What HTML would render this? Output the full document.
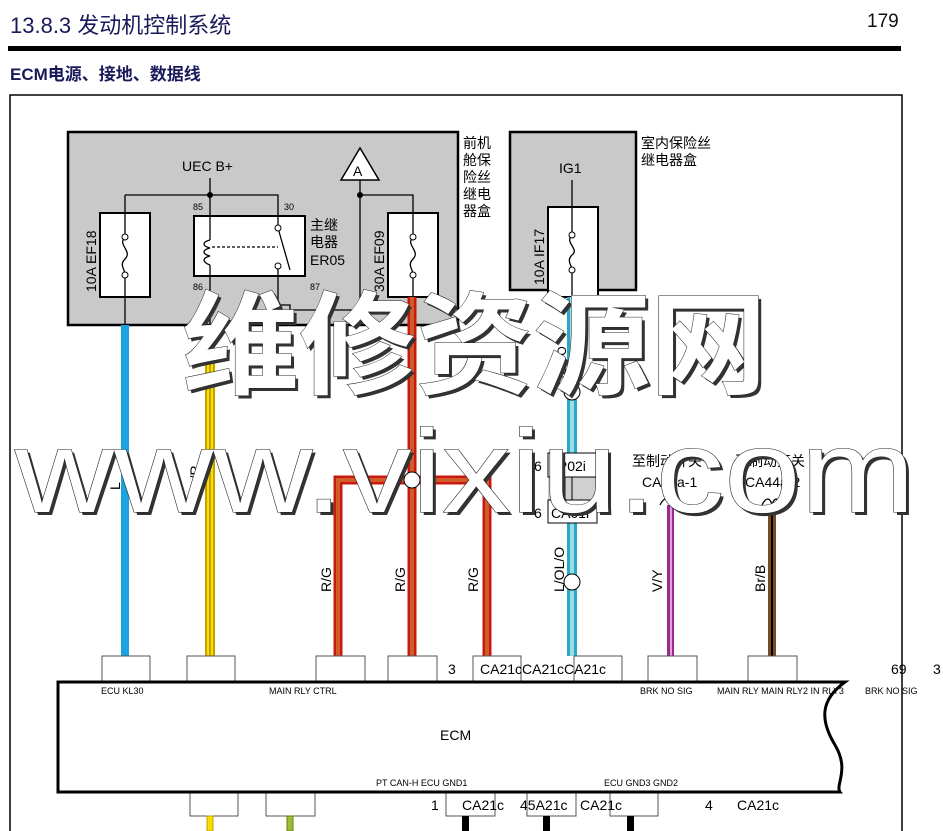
<!DOCTYPE html>
<html><head><meta charset="utf-8"><style>
html,body{margin:0;padding:0;background:#fff;}
svg{display:block;font-family:"Liberation Sans","Noto Sans CJK SC",sans-serif;}
</style></head><body>
<svg width="943" height="831" viewBox="0 0 943 831" xmlns="http://www.w3.org/2000/svg">
<text x="10" y="33" font-size="22" fill="#1a1a5a">13.8.3 发动机控制系统</text>
<text x="867" y="27" font-size="19" fill="#111">179</text>
<rect x="8" y="46" width="893" height="5" fill="#000"/>
<text x="10" y="80" font-size="17" font-weight="bold" fill="#1a1a5a">ECM电源、接地、数据线</text>
<path d="M10 831 V95 H902 V831" fill="none" stroke="#000" stroke-width="1.5"/>

<rect x="68" y="132" width="390" height="193" fill="#c9c9c9" stroke="#000" stroke-width="2.5"/>
<rect x="510" y="132" width="126" height="158" fill="#c9c9c9" stroke="#000" stroke-width="2.5"/>
<g font-size="14" fill="#000">
<text x="463" y="148">前机</text><text x="463" y="165">舱保</text><text x="463" y="182">险丝</text><text x="463" y="199">继电</text><text x="463" y="216">器盒</text>
<text x="641" y="148">室内保险丝</text><text x="641" y="165">继电器盒</text>
<text x="182" y="171">UEC B+</text>
<text x="559" y="173">IG1</text>
<text x="310" y="230">主继</text><text x="310" y="247">电器</text><text x="310" y="265">ER05</text>
</g>
<g stroke="#000" stroke-width="1.3" fill="none">
<path d="M210 178 V325 M125 195 H278 V325 M125 195 V325"/>
<path d="M360 180 V325 M360 195 H413 V325"/>
<path d="M572 180 V325"/>
<path d="M278 305 H290 V310 H360"/>
</g>
<circle cx="210" cy="195" r="3" fill="#000"/><circle cx="360" cy="195" r="3" fill="#000"/>
<polygon points="360,148 341,180 379,180" fill="#fff" stroke="#000" stroke-width="1.5"/>
<text x="353" y="176" font-size="14">A</text>
<g fill="#fff" stroke="#000" stroke-width="2">
<rect x="100" y="213" width="50" height="84"/>
<rect x="388" y="213" width="50" height="84"/>
<rect x="548" y="207" width="50" height="90"/>
<rect x="194" y="216" width="111" height="60"/>
</g>
<g stroke="#000" stroke-width="1.3" fill="none">
<path d="M125 213 V237 M125 275 V297 M125 237 c-8 8 8 14 0 22 c-6 6 0 10 0 16"/>
<path d="M413 213 V237 M413 275 V297 M413 237 c-8 8 8 14 0 22 c-6 6 0 10 0 16"/>
<path d="M572 207 V235 M572 270 V297 M572 235 c-8 8 8 14 0 20 c-6 6 0 10 0 15"/>
<path d="M210 216 V240 M210 265 V276 M210 240 c-8 2 -8 6 0 8 c-8 2 -8 6 0 8 c-8 2 -8 6 0 9"/>
<path d="M278 216 V228 M278 266 V276 M278 228 L290 270"/>
<path d="M212 247 H278" stroke-dasharray="3,2"/>
</g>
<circle cx="125" cy="237" r="3" fill="#fff" stroke="#000"/><circle cx="125" cy="275" r="3" fill="#fff" stroke="#000"/>
<circle cx="413" cy="237" r="3" fill="#fff" stroke="#000"/><circle cx="413" cy="275" r="3" fill="#fff" stroke="#000"/>
<circle cx="572" cy="235" r="3" fill="#fff" stroke="#000"/><circle cx="572" cy="270" r="3" fill="#fff" stroke="#000"/>
<circle cx="278" cy="228" r="3" fill="#fff" stroke="#000"/><circle cx="278" cy="266" r="3" fill="#fff" stroke="#000"/>
<g font-size="9"><text x="193" y="210">85</text><text x="284" y="210">30</text><text x="193" y="290">86</text><text x="310" y="290">87</text></g>
<g font-size="14">
<text transform="translate(96,292) rotate(-90)">10A EF18</text>
<text transform="translate(384,292) rotate(-90)">30A EF09</text>
<text transform="translate(544,285) rotate(-90)">10A IF17</text>
</g>

<rect x="121" y="325" width="8" height="331" fill="#1ba3e0"/>
<rect x="205" y="325" width="10" height="331" fill="#c8a000"/><rect x="207" y="325" width="6" height="331" fill="#f5e000"/><rect x="209" y="325" width="2" height="331" fill="#c8a000"/>
<g fill="none">
<path d="M412 297 V656 M412 480 H338 V656 M412 480 H487 V656" stroke="#c81810" stroke-width="9"/>
<path d="M412 297 V656 M412 480 H338 V656 M412 480 H487 V656" stroke="#d8a040" stroke-width="3"/>
<path d="M412 297 V656 M412 480 H338 V656 M412 480 H487 V656" stroke="#c81810" stroke-width="1"/>
</g>
<rect x="567" y="297" width="10" height="359" fill="#2aa8c8"/><rect x="570" y="297" width="4" height="359" fill="#9adde8"/>
<rect x="667" y="505" width="7" height="151" fill="#9a2890"/><rect x="670" y="505" width="2" height="151" fill="#e0a0d8"/>
<rect x="768" y="505" width="8" height="151" fill="#7a4a20"/><rect x="771" y="505" width="2" height="151" fill="#000"/>
<circle cx="412" cy="480" r="8" fill="#fff" stroke="#000"/>
<circle cx="572" cy="392" r="8" fill="#fff" stroke="#000"/>
<circle cx="572" cy="582" r="8" fill="#fff" stroke="#000"/>
<rect x="548" y="477" width="49" height="23" fill="#d0d0d0"/>
<rect x="548" y="453" width="49" height="24" fill="#fff" stroke="#000"/>
<rect x="548" y="500" width="49" height="23" fill="#fff" stroke="#000"/>
<path d="M565 477 V500 M572 477 V500" stroke="#000"/>
<g font-size="14">
<text x="534" y="471">6</text><text x="554" y="471">IP02i</text>
<text x="534" y="518">6</text><text x="551" y="518">CA01i</text>
<text x="632" y="466">至制动开关</text><text x="642" y="487">CA44a-1</text>
<text x="735" y="466">至制动开关</text><text x="745" y="487">CA44a-2</text>
<text transform="translate(120,490) rotate(-90)">L</text>
<text transform="translate(200,495) rotate(-90)">Lg/R</text>
<text transform="translate(331,592) rotate(-90)">R/G</text>
<text transform="translate(405,592) rotate(-90)">R/G</text>
<text transform="translate(478,592) rotate(-90)">R/G</text>
<text transform="translate(564,592) rotate(-90)">L/OL/O</text>
<text transform="translate(662,592) rotate(-90)">V/Y</text>
<text transform="translate(765,592) rotate(-90)">Br/B</text>
<text transform="translate(566,385) rotate(-90)" font-size="12">L/OL/O</text>
</g>
<path d="M660 505 c4 -8 8 -8 10 0 c2 -8 6 -8 10 0 M762 505 c4 -8 8 -8 10 0 c2 -8 6 -8 10 0" stroke="#000" fill="none" stroke-width="1.3"/>

<g fill="#fff" stroke="#555" stroke-width="1">
<rect x="102" y="656" width="48" height="26"/><rect x="187" y="656" width="48" height="26"/>
<rect x="316" y="656" width="49" height="26"/><rect x="388" y="656" width="49" height="26"/>
<rect x="473" y="656" width="48" height="26"/><rect x="574" y="656" width="48" height="26"/>
<rect x="648" y="656" width="49" height="26"/><rect x="748" y="656" width="49" height="26"/>
<rect x="190" y="792" width="48" height="24"/><rect x="266" y="792" width="49" height="24"/>
<rect x="446" y="792" width="49" height="24"/><rect x="527" y="792" width="49" height="24"/>
<rect x="610" y="792" width="48" height="24"/>
</g>
<g font-size="14"><text x="448" y="674">3</text><text x="480" y="674">CA21cCA21cCA21c</text>
<text x="891" y="674">69</text><text x="933" y="674">3</text>
<text x="431" y="810">1</text><text x="462" y="810">CA21c</text><text x="520" y="810">45A21c</text><text x="580" y="810">CA21c</text>
<text x="705" y="810">4</text><text x="737" y="810">CA21c</text></g>
<path d="M58 682 H845 C820 700 820 720 835 745 C850 770 835 785 840 792 H58 Z" fill="#fff" stroke="#000" stroke-width="3"/>
<g font-size="9">
<text x="101" y="694">ECU KL30</text><text x="269" y="694">MAIN RLY CTRL</text><text x="640" y="694">BRK NO SIG</text>
<text x="717" y="694">MAIN RLY MAIN RLY2 IN RLY3</text><text x="865" y="694">BRK NO SIG</text>
<text x="376" y="786">PT CAN-H ECU GND1</text><text x="604" y="786">ECU GND3 GND2</text>
</g>
<text x="440" y="740" font-size="14">ECM</text>
<rect x="207" y="816" width="6" height="15" fill="#f5e000" stroke="#c8a000"/>
<rect x="287" y="816" width="6" height="15" fill="#9ac030" stroke="#608010"/>
<rect x="462" y="816" width="7" height="15" fill="#000"/>
<rect x="543" y="816" width="7" height="15" fill="#000"/>
<rect x="627" y="816" width="7" height="15" fill="#000"/>

<!-- watermark shadow -->
<g font-weight="bold" fill="#333">
<text x="185" y="388" font-size="112" textLength="585" lengthAdjust="spacingAndGlyphs" font-family="Noto Sans CJK SC, sans-serif">维修资源网</text>
<text x="18" y="515" font-size="118" font-weight="normal" textLength="900" lengthAdjust="spacingAndGlyphs">www.vixiu.com</text>
</g>
<g font-weight="bold" fill="#fff" stroke="#222" stroke-width="1" style="paint-order:stroke">
<text x="182" y="385" font-size="112" textLength="585" lengthAdjust="spacingAndGlyphs" font-family="Noto Sans CJK SC, sans-serif">维修资源网</text>
<text x="15" y="512" font-size="118" font-weight="normal" textLength="900" lengthAdjust="spacingAndGlyphs">www.vixiu.com</text>
</g>
</svg>
</body></html>
